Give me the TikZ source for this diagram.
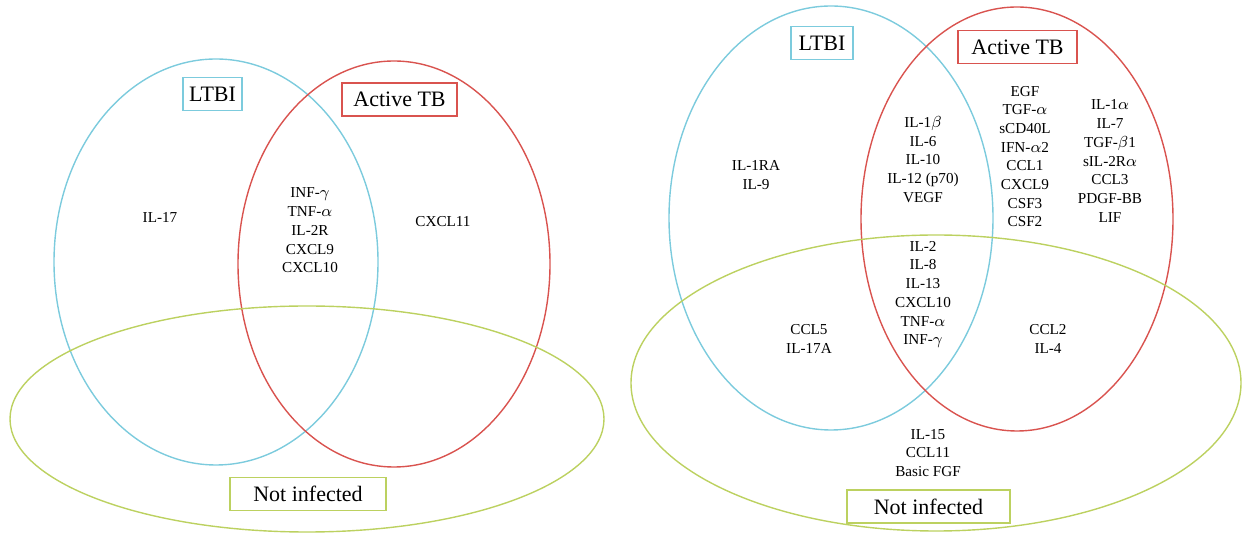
\documentclass[tikz,border=0pt]{standalone}
\usepackage{fontspec}
\setmainfont{Liberation Serif}
\definecolor{ltbiblue}{HTML}{7CCBDD}
\definecolor{tbred}{HTML}{D9534F}
\definecolor{nigreen}{HTML}{BCD160}
\begin{document}
\begin{tikzpicture}[x=0.5pt,y=-0.5pt,
  set/.style={line width=0.7pt},
  lab/.style={draw, line width=0.7pt, fill=white, text=black, minimum height=16.5pt, inner sep=0pt, font=\fontsize{11}{13}\selectfont},
  lst/.style={align=center, inner sep=0pt, font=\fontsize{7.6}{9.35}\selectfont}]
\useasboundingbox (0,0) rectangle (1243,533);
% left diagram
\draw[set, ltbiblue] (216,262) ellipse [x radius=162, y radius=203];
\draw[set, tbred] (394,264) ellipse [x radius=156, y radius=203];
\draw[set, nigreen] (307,419) ellipse [x radius=297, y radius=113];
\node[lab, draw=ltbiblue, minimum width=29.5pt] (lltbi) at (212.5,94) {LTBI};
\node[lab, draw=tbred, minimum width=57.5pt] (ltb) at (399.5,99.5) {Active TB};
\node[lab, draw=nigreen, minimum width=78pt] (lni) at (308,494) {Not infected};
\node[lst] (l17) at (160,217) {IL-17};
\node[lst] (lcen) at (310,230.5) {INF-$\gamma$\\TNF-$\alpha$\\IL-2R\\CXCL9\\CXCL10};
\node[lst] (l11) at (443,222) {CXCL11};
% right diagram
\draw[set, ltbiblue] (831,218) ellipse [x radius=162, y radius=212];
\draw[set, tbred] (1017,219) ellipse [x radius=156, y radius=212];
\draw[set, nigreen] (936,383) ellipse [x radius=305, y radius=148];
\node[lab, draw=ltbiblue, minimum width=31pt] (rltbi) at (822,43) {LTBI};
\node[lab, draw=tbred, minimum width=59.5pt] (rtb) at (1017.5,47) {Active TB};
\node[lab, draw=nigreen, minimum width=81.5pt] (rni) at (928.5,506.5) {Not infected};
\node[lst] (r1ra) at (756,175) {IL-1RA\\IL-9};
\node[lst] (rup) at (923,159.5) {IL-1$\beta$\\IL-6\\IL-10\\IL-12 (p70)\\VEGF};
\node[lst] (regf) at (1025,156.5) {EGF\\TGF-$\alpha$\\sCD40L\\IFN-$\alpha$2\\CCL1\\CXCL9\\CSF3\\CSF2};
\node[lst] (ril1a) at (1110,161) {IL-1$\alpha$\\IL-7\\TGF-$\beta$1\\sIL-2R$\alpha$\\CCL3\\PDGF-BB\\LIF};
\node[lst] (rlow) at (923,294.5) {IL-2\\IL-8\\IL-13\\CXCL10\\TNF-$\alpha$\\INF-$\gamma$};
\node[lst] (rccl5) at (809,339) {CCL5\\IL-17A};
\node[lst] (rccl2) at (1048,339) {CCL2\\IL-4};
\node[lst] (ril15) at (928,453) {IL-15\\CCL11\\Basic FGF};
\end{tikzpicture}
\end{document}
